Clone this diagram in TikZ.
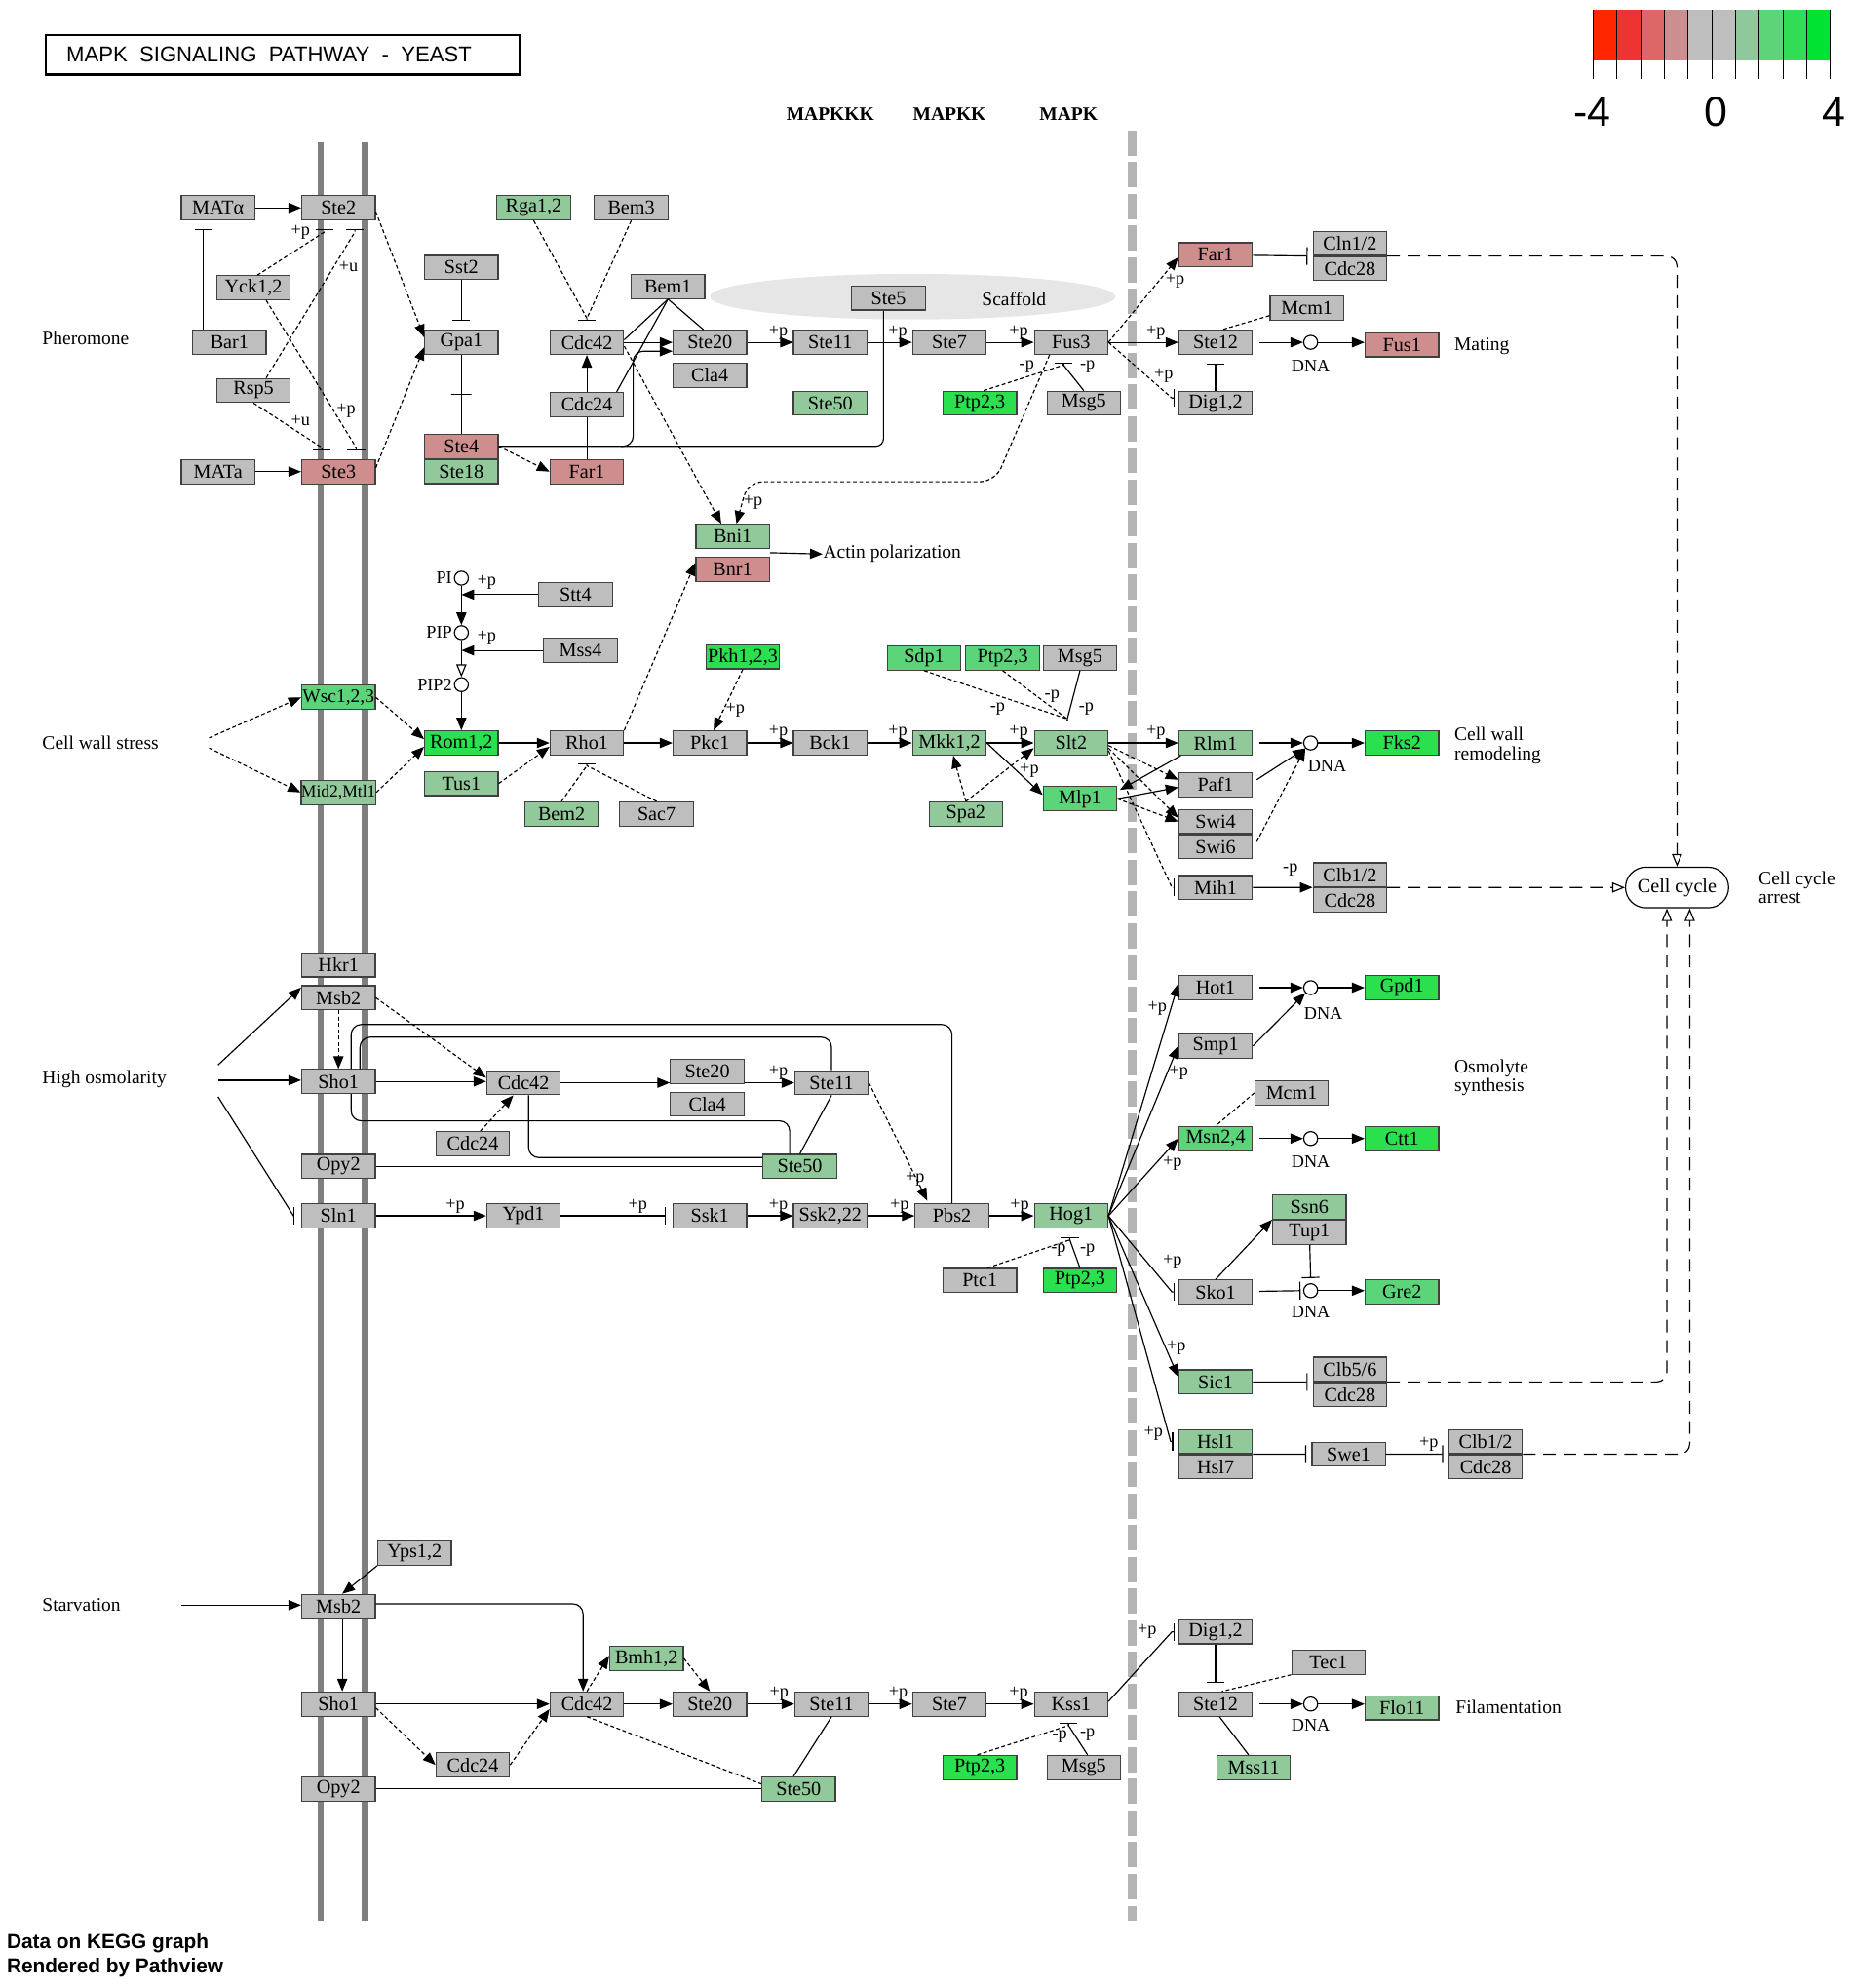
\documentclass[tikz,border=0pt]{standalone}
\usepackage{fontspec}
\setmainfont{Liberation Serif}
\newfontfamily\sansface{Liberation Sans}
\usetikzlibrary{arrows.meta,positioning,calc,shapes.misc}

\definecolor{keggGray}{HTML}{BEBEBE}
\definecolor{keggPink}{HTML}{CF8E8E}
\definecolor{keggLight}{HTML}{91C99B}
\definecolor{keggMid}{HTML}{5CD47A}
\definecolor{keggBright}{HTML}{2BE04E}
\definecolor{membrane}{HTML}{7F7F7F}
\definecolor{nucleus}{HTML}{B4B4B4}
\definecolor{scaffoldfill}{HTML}{E6E6E6}

\tikzset{
  gene/.style={draw=black!75, line width=0.9pt, minimum width=58pt, minimum height=19pt,
    inner sep=0pt, font=\fontsize{15.5}{17}\selectfont},
  boxgray/.style={gene, fill=keggGray},
  boxpink/.style={gene, fill=keggPink},
  boxlight/.style={gene, fill=keggLight},
  boxmid/.style={gene, fill=keggMid},
  boxbright/.style={gene, fill=keggBright},
  dna/.style={circle, draw, fill=white, line width=0.9pt, minimum size=11pt, inner sep=0pt},
  txt/.style={font=\fontsize{15}{15}\selectfont, inner sep=0pt, align=left},
  plab/.style={font=\fontsize{14}{15}\selectfont, inner sep=0pt},
  hlab/.style={plab, above=2pt, pos=0.68},
  crossbar/.style={draw, minimum width=16pt, minimum height=0pt, inner sep=0pt},
  actv/.style={-{Triangle[length=10pt,width=8pt]}},
  indact/.style={actv, dash pattern=on 3pt off 2pt},
  inhib/.style={-{Bar[width=14pt]}},
  indinhib/.style={inhib, dash pattern=on 3pt off 2pt},
  indbind/.style={dash pattern=on 3pt off 2pt},
  openact/.style={-{Triangle[open,length=10pt,width=8pt]}},
  cycarrow/.style={-{Triangle[open,length=10pt,width=8pt]}, dash pattern=on 10pt off 6pt, rounded corners=8pt},
}

\begin{document}
\begin{tikzpicture}[x=1pt, y=-1pt, line width=0.9pt]
\useasboundingbox (0,0) rectangle (1462,1568);

% membrane, nucleus, scaffold
\draw [membrane, line width=5pt] (253,112) -- (253,1515);
\draw [membrane, line width=5pt] (288,112) -- (288,1515);
\draw [nucleus, line width=7pt, dash pattern=on 20pt off 5pt] (893,103) -- (893,1515);
\fill [scaffoldfill] (720,234) ellipse [x radius=160, y radius=18];

% title and legend
\node [draw, line width=1.6pt, minimum width=374pt, minimum height=31pt, inner sep=0pt, anchor=north west] (titlebox) at (35,27) {};
\node [anchor=west, inner sep=0pt, font=\sansface\fontsize{17}{19}\selectfont] (title) at (52,43) {MAPK\ \ SIGNALING\ \ PATHWAY\ \ -\ \ YEAST};
\foreach \col [count=\i from 0] in {FF2600,EE3333,DD6666,CC8E8E,BEBEBE,BEBEBE,8FC89C,5DD478,33DC55,00E332} {
  \definecolor{legendcol}{HTML}{\col}
  \fill [legendcol] ({1257+18.7*\i},8) rectangle ({1257+18.7*(\i+1)},48);
}
\foreach \i in {0,...,10}
  \draw [line width=0.8pt] ({1257+18.7*\i},8) -- ({1257+18.7*\i},62);
\node [font=\sansface\fontsize{33}{35}\selectfont] (legmin) at (1256,88) {-4};
\node [font=\sansface\fontsize{33}{35}\selectfont] (legmid) at (1354,88) {0};
\node [font=\sansface\fontsize{33}{35}\selectfont] (legmax) at (1447,88) {4};

\node [font=\bfseries\fontsize{15}{17}\selectfont] (mapkkk) at (655,90) {MAPKKK};
\node [font=\bfseries\fontsize{15}{17}\selectfont] (mapkk) at (749,90) {MAPKK};
\node [font=\bfseries\fontsize{15}{17}\selectfont] (mapk) at (843,90) {MAPK};

\node [txt, anchor=west] (pheromone) at (33,267) {Pheromone};
\node [txt, anchor=west] (cws) at (33,586) {Cell wall stress};
\node [txt, anchor=west] (hosm) at (33,851) {High osmolarity};
\node [txt, anchor=west] (starv) at (33,1266) {Starvation};

% ---------- pheromone nodes ----------
\node [boxgray] (matalpha) at (172,164) {MATα};
\node [boxgray] (ste2) at (267,164) {Ste2};
\node [boxlight] (rga) at (421,164) {Rga1,2};
\node [boxgray] (bem3) at (498,164) {Bem3};
\node [boxgray] (sst2) at (364,211) {Sst2};
\node [boxgray] (yck) at (200,227) {Yck1,2};
\node [boxgray] (bem1) at (527,226) {Bem1};
\node [boxgray] (ste5) at (701,235) {Ste5};
\node [txt] (scaffold) at (800,236) {Scaffold};
\node [boxgray] (bar1) at (181,270) {Bar1};
\node [boxgray] (gpa1) at (364,270) {Gpa1};
\node [boxgray] (cdc42p) at (463,270) {Cdc42};
\node [boxgray] (ste20p) at (560,270) {Ste20};
\node [boxgray, below=6pt of ste20p] (cla4p) {Cla4};
\node [boxgray] (ste11p) at (655,270) {Ste11};
\node [boxgray] (ste7p) at (749,270) {Ste7};
\node [boxgray] (fus3) at (845,270) {Fus3};
\node [boxgray] (rsp5) at (200,308) {Rsp5};
\node [boxgray] (cdc24p) at (463,319) {Cdc24};
\node [boxlight] (ste50p) at (655,318) {Ste50};
\node [boxbright] (ptp23p) at (773,318) {Ptp2,3};
\node [boxgray] (msg5p) at (855,318) {Msg5};
\node [boxpink] (ste4) at (364,352) {Ste4};
\node [boxlight, below=0pt of ste4] (ste18) {Ste18};
\node [boxgray] (mata) at (172,372) {MATa};
\node [boxpink] (ste3) at (267,372) {Ste3};
\node [boxpink] (far1p) at (463,372) {Far1};
\node [boxlight] (bni1) at (578,423) {Bni1};
\node [boxpink, below=6pt of bni1] (bnr1) {Bnr1};
\node [txt, anchor=west] (actin) at (649,437) {Actin polarization};
\node [boxpink] (far1r) at (959,201) {Far1};
\node [boxgray] (cln12a) at (1065,192) {Cln1/2};
\node [boxgray, below=0pt of cln12a] (cdc28a) {Cdc28};
\node [boxgray] (mcm1p) at (1031,243) {Mcm1};
\node [boxgray] (ste12p) at (959,270) {Ste12};
\node [dna] (dnap) at (1034,270) {};
\node [plab] (ldnap) at (1034,289) {DNA};
\node [boxpink] (fus1) at (1106,272) {Fus1};
\node [txt, anchor=west] (mating) at (1147,273) {Mating};
\node [boxgray] (dig12p) at (959,318) {Dig1,2};

% ---------- cell wall stress nodes ----------
\node [dna] (pinode) at (364,456) {};
\node [plab, anchor=east] (lpi) at ($(pinode.west)+(-1,0)$) {PI};
\node [boxgray] (stt4) at (454,469) {Stt4};
\node [dna] (pipnode) at (364,499) {};
\node [plab, anchor=east] (lpip) at ($(pipnode.west)+(-1,0)$) {PIP};
\node [boxgray] (mss4) at (458,513) {Mss4};
\node [dna] (pip2node) at (364,540) {};
\node [plab, anchor=east] (lpip2) at ($(pip2node.west)+(-1,0)$) {PIP2};
\node [boxbright] (pkh) at (586,518) {Pkh1,2,3};
\node [boxmid] (sdp1) at (729,519) {Sdp1};
\node [boxmid] (ptp23w) at (791,519) {Ptp2,3};
\node [boxgray] (msg5w) at (852,519) {Msg5};
\node [boxmid, font=\fontsize{15}{17}\selectfont] (wsc) at (267,550) {Wsc1,2,3};
\node [boxbright] (rom12) at (364,586) {Rom1,2};
\node [boxgray] (rho1) at (463,586) {Rho1};
\node [boxgray] (pkc1) at (560,586) {Pkc1};
\node [boxgray] (bck1) at (655,586) {Bck1};
\node [boxlight] (mkk12) at (749,586) {Mkk1,2};
\node [boxlight] (slt2) at (845,586) {Slt2};
\node [boxlight] (rlm1) at (959,586) {Rlm1};
\node [dna] (dnaw) at (1034,586) {};
\node [plab] (ldnaw) at (1047,604) {DNA};
\node [boxbright] (fks2) at (1106,586) {Fks2};
\node [txt, anchor=west] (remodel) at (1147,588) {Cell wall\\remodeling};
\node [boxlight] (tus1) at (364,618) {Tus1};
\node [boxlight, font=\fontsize{13.5}{15}\selectfont] (mid2) at (267,625) {Mid2,Mtl1};
\node [boxgray] (paf1) at (959,619) {Paf1};
\node [boxmid] (mlp1) at (852,630) {Mlp1};
\node [boxlight] (bem2) at (443,642) {Bem2};
\node [boxgray] (sac7) at (518,642) {Sac7};
\node [boxlight] (spa2) at (762,642) {Spa2};
\node [boxgray] (swi4) at (959,648) {Swi4};
\node [boxgray, below=0pt of swi4] (swi6) {Swi6};
\node [boxgray] (mih1) at (959,700) {Mih1};
\node [boxgray] (clb12a) at (1065,690) {Clb1/2};
\node [boxgray, below=0pt of clb12a] (cdc28b) {Cdc28};
\node [draw, rounded rectangle, fill=white, minimum width=88pt, minimum height=32pt, font=\fontsize{15.5}{17}\selectfont] (cellcycle) at (1323,700) {Cell cycle};
\node [txt, anchor=west] (arrest) at (1387,700) {Cell cycle\\arrest};

% ---------- high osmolarity nodes ----------
\node [boxgray] (hkr1) at (267,761) {Hkr1};
\node [boxgray, below=6pt of hkr1] (msb2o) {Msb2};
\node [boxgray] (sho1o) at (267,853) {Sho1};
\node [boxgray] (cdc42o) at (413,854) {Cdc42};
\node [boxgray] (ste20o) at (558,845) {Ste20};
\node [boxgray, below=6pt of ste20o] (cla4o) {Cla4};
\node [boxgray] (ste11o) at (656,854) {Ste11};
\node [boxgray] (cdc24o) at (373,902) {Cdc24};
\node [boxgray] (opy2o) at (267,920) {Opy2};
\node [boxlight] (ste50o) at (631,920) {Ste50};
\node [boxgray] (sln1) at (267,959) {Sln1};
\node [boxgray] (ypd1) at (413,959) {Ypd1};
\node [boxgray] (ssk1) at (560,959) {Ssk1};
\node [boxgray] (ssk2) at (655,959) {Ssk2,22};
\node [boxgray] (pbs2) at (751,959) {Pbs2};
\node [boxlight] (hog1) at (845,959) {Hog1};
\node [boxgray] (ptc1) at (773,1010) {Ptc1};
\node [boxbright] (ptp23o) at (852,1010) {Ptp2,3};
\node [boxgray] (hot1) at (959,779) {Hot1};
\node [dna] (dnah) at (1034,779) {};
\node [plab] (ldnah) at (1044,799) {DNA};
\node [boxbright] (gpd1) at (1106,779) {Gpd1};
\node [boxgray] (smp1) at (959,825) {Smp1};
\node [txt, anchor=west] (osmolyte) at (1147,850) {Osmolyte\\synthesis};
\node [boxgray] (mcm1o) at (1019,862) {Mcm1};
\node [boxmid] (msn24) at (959,898) {Msn2,4};
\node [dna] (dnam) at (1034,898) {};
\node [plab] (ldnam) at (1034,916) {DNA};
\node [boxbright] (ctt1) at (1106,898) {Ctt1};
\node [boxlight] (ssn6) at (1033,952) {Ssn6};
\node [boxgray, below=0pt of ssn6] (tup1) {Tup1};
\node [boxgray] (sko1) at (959,1019) {Sko1};
\node [dna] (dnas) at (1034,1018) {};
\node [plab] (ldnas) at (1034,1035) {DNA};
\node [boxmid] (gre2) at (1106,1019) {Gre2};
\node [boxlight] (sic1) at (959,1090) {Sic1};
\node [boxgray] (clb56) at (1065,1080) {Clb5/6};
\node [boxgray, below=0pt of clb56] (cdc28c) {Cdc28};
\node [boxlight] (hsl1) at (959,1137) {Hsl1};
\node [boxgray, below=0pt of hsl1] (hsl7) {Hsl7};
\node [boxgray] (swe1) at (1064,1147) {Swe1};
\node [boxgray] (clb12b) at (1172,1137) {Clb1/2};
\node [boxgray, below=0pt of clb12b] (cdc28d) {Cdc28};

% ---------- starvation nodes ----------
\node [boxgray] (yps12) at (327,1225) {Yps1,2};
\node [boxgray] (msb2s) at (267,1267) {Msb2};
\node [boxlight] (bmh12) at (510,1308) {Bmh1,2};
\node [boxgray] (sho1s) at (267,1344) {Sho1};
\node [boxgray] (cdc42s) at (463,1344) {Cdc42};
\node [boxgray] (ste20s) at (560,1344) {Ste20};
\node [boxgray] (ste11s) at (656,1344) {Ste11};
\node [boxgray] (ste7s) at (749,1344) {Ste7};
\node [boxgray] (kss1) at (845,1344) {Kss1};
\node [boxgray] (cdc24s) at (373,1392) {Cdc24};
\node [boxgray] (opy2s) at (267,1411) {Opy2};
\node [boxlight] (ste50s) at (630,1411) {Ste50};
\node [boxbright] (ptp23s) at (773,1394) {Ptp2,3};
\node [boxgray] (msg5s) at (855,1394) {Msg5};
\node [boxgray] (dig12s) at (959,1287) {Dig1,2};
\node [boxgray] (tec1) at (1048,1311) {Tec1};
\node [boxgray] (ste12s) at (959,1344) {Ste12};
\node [dna] (dnaf) at (1034,1344) {};
\node [plab] (ldnaf) at (1034,1361) {DNA};
\node [boxlight] (flo11) at (1106,1347) {Flo11};
\node [txt, anchor=west] (filament) at (1148,1346) {Filamentation};
\node [boxlight] (mss11) at (989,1394) {Mss11};

\node [anchor=west, inner sep=0pt, font=\sansface\bfseries\fontsize{16}{18}\selectfont] (credit1) at (5,1533) {Data on KEGG graph};
\node [anchor=west, inner sep=0pt, font=\sansface\bfseries\fontsize{16}{18}\selectfont] (credit2) at (5,1552) {Rendered by Pathview};

% ---------- pheromone edges ----------
\draw [actv] (matalpha) -- (ste2);
\draw [actv] (mata) -- (ste3);
\draw [inhib] ($(bar1.north west)+(9,0)$) -- ($(matalpha.south west)+(18,7)$);
\coordinate (ste2barl) at ($(ste2.south)+(-11,7)$);
\coordinate (ste2barr) at ($(ste2.south)+(13,7)$);
\coordinate (ste3barl) at ($(ste3.north)+(-13,-7)$);
\coordinate (ste3barr) at ($(ste3.north)+(14,-7)$);
\draw [indinhib] ($(yck.north)+(3,0)$) -- ($(ste2barl)+(0,2)$) -- (ste2barl);
\draw [indinhib] ($(rsp5.north)+(10,0)$) -- ($(ste2barr)+(0,2)$) -- (ste2barr);
\draw [indinhib] ($(yck.south)+(10,0)$) -- ($(ste3barr)+(0,-2)$) -- (ste3barr);
\draw [indinhib] (rsp5.south) -- ($(ste3barl)+(0,-2)$) -- (ste3barl);
\node [plab] (lyck1) at (237,183) {+p};
\node [plab] (lrsp1) at (275,210) {+u};
\node [plab] (lyck2) at (273,324) {+p};
\node [plab] (lrsp2) at (237,332) {+u};
\draw [indact] ($(ste2.east)+(0,3)$) -- ($(gpa1.west)+(0,-4)$);
\draw [indact] ($(ste3.east)+(0,-3)$) -- ($(gpa1.west)+(0,4)$);
\draw [inhib] (sst2) -- ($(gpa1.north)+(0,-7)$);
\draw (gpa1) -- node [crossbar] {} (ste4);
\coordinate (cdc42bar) at ($(cdc42p.north)+(0,-7)$);
\draw [indinhib] (rga.south) -- ($(cdc42bar)+(0,-2)$) -- (cdc42bar);
\draw [indinhib] (bem3.south) -- ($(cdc42bar)+(0,-2)$) -- (cdc42bar);
\draw [actv] (cdc24p) -- (cdc42p);
\draw (cdc24p) -- (far1p);
\draw [indact] (ste4.east) -- (far1p.west);
\draw [rounded corners=6pt] (ste4.east) -| ($(ste5.south)+(-4,0)$);
\coordinate (ste4split) at (490,352);
\draw [actv, rounded corners=8pt] (ste4split) -| ($(ste20p.west)+(-31,7)$) -- ($(ste20p.west)+(0,7)$);
\draw [actv] (cdc42p) -- (ste20p);
\draw (bem1.south) -- ($(cdc42p.east)+(0,-2)$);
\draw (bem1.south) -- ($(cdc24p.north east)+(-6,0)$);
\draw (bem1.south) -- ($(ste20p.north)+(-5,0)$);
\draw [indact] ($(cdc42p.east)+(0,3)$) -- ($(bni1.north)+(-9,0)$);
\draw [indact, rounded corners=12pt] ($(fus3.south)+(-17,0)$) -- (785,380) -- (590,380) -- ($(bni1.north)+(3,0)$);
\node [plab] (lbni) at (594,396) {+p};
\draw [actv] ($(bni1.south east)!0.5!(bnr1.north east)$) -- (actin.west);
\draw [actv] (ste20p) -- node [hlab] {+p} (ste11p);
\draw [actv] (ste11p) -- node [hlab] {+p} (ste7p);
\draw [actv] (ste7p) -- node [hlab] {+p} (fus3);
\draw (ste11p) -- (ste50p);
\coordinate (fus3bar) at ($(fus3.south)+(-6,6)$);
\draw [indinhib] ($(ptp23p.north)+(3,0)$) -- ($(fus3bar)+(0,2)$) -- (fus3bar);
\draw [inhib] (msg5p.north) -- ($(fus3bar)+(0,2)$) -- (fus3bar);
\node [plab] (lptpf) at (810,289) {-p};
\node [plab] (lmsgf) at (858,289) {-p};
\draw [indact] (fus3.east) -- ($(far1r.west)+(0,2)$);
\node [plab] (lfar1) at (927,222) {+p};
\draw [actv] (fus3) -- node [hlab] {+p} (ste12p);
\draw [indinhib] (fus3.east) -- ($(dig12p.west)+(-5,-4)$) -- ($(dig12p.west)+(-3,-4)$);
\node [plab] (ldig) at (918,296) {+p};
\draw [inhib] (far1r) -- ($(cln12a.south west)+(-4,0)$);
\draw [cycarrow] (cln12a.south east) -| (cellcycle.north);
\draw [indbind] ($(mcm1p.south west)+(0,-4)$) -- ($(ste12p.north)+(5,0)$);
\draw [actv, shorten <=5pt] (ste12p) -- (dnap);
\draw [actv] (dnap) -- (dnap -| fus1.west);
\draw [inhib] (dig12p) -- ($(ste12p.south)+(0,7)$);

% ---------- cell wall stress edges ----------
\draw [actv] (pinode) -- (pipnode);
\draw [actv] (stt4) -- (stt4 -| pinode);
\draw [actv] (mss4) -- (mss4 -| pipnode);
\node [plab] (lpi1) at (384,459) {+p};
\node [plab] (lpi2) at (384,503) {+p};
\draw [openact] (pipnode) -- (pip2node);
\draw [actv] (pip2node) -- (rom12);
\coordinate (cwsout) at (165,586);
\draw [indact] ($(cwsout)+(0,-4)$) -- (wsc.west);
\draw [indact] ($(cwsout)+(0,4)$) -- (mid2.west);
\draw [indact] (wsc.east) -- ($(rom12.west)+(0,-3)$);
\draw [indact] (mid2.east) -- ($(rom12.west)+(0,3)$);
\draw [actv] (rom12) -- (rho1);
\draw [indact] (tus1.east) -- ($(rho1.west)+(0,3)$);
\coordinate (rho1bar) at ($(rho1.south)+(0,6)$);
\draw [indinhib] (bem2.north) -- ($(rho1bar)+(0,2)$) -- (rho1bar);
\draw [indinhib] (sac7.north) -- ($(rho1bar)+(0,2)$) -- (rho1bar);
\draw [indact] (rho1.north east) -- ($(bnr1.west)+(0,-5)$);
\draw [actv] (rho1) -- (pkc1);
\draw [indact] (pkh.south) -- ($(pkc1.north)+(3,0)$);
\node [plab] (lpkh) at (580,560) {+p};
\draw [actv] (pkc1) -- node [hlab] {+p} (bck1);
\draw [actv] (bck1) -- node [hlab] {+p} (mkk12);
\draw [actv] (mkk12) -- node [hlab] {+p} (slt2);
\draw [actv] (mkk12.east) -- ($(mlp1.west)+(0,-3)$);
\node [plab] (lmlp) at (812,608) {+p};
\draw [indact] (spa2.north) -- ($(mkk12.south)+(3,0)$);
\draw [indact] (spa2.north) -- ($(slt2.west)+(0,4)$);
\coordinate (slt2bar) at ($(slt2.north)+(-3,-7)$);
\draw [indinhib] (sdp1.south) -- ($(slt2bar)+(0,-2)$) -- (slt2bar);
\draw [indinhib] (ptp23w.south) -- ($(slt2bar)+(0,-2)$) -- (slt2bar);
\draw [inhib] (msg5w.south) -- ($(slt2bar)+(0,-2)$) -- (slt2bar);
\node [plab] (lsdp) at (787,559) {-p};
\node [plab] (lptpw) at (830,549) {-p};
\node [plab] (lmsgw) at (857,559) {-p};
\draw [actv] (slt2) -- node [hlab] {+p} (rlm1);
\draw [indact] ($(slt2.east)+(0,2)$) -- ($(paf1.west)+(0,-4)$);
\draw [indact] ($(slt2.east)+(0,4)$) -- ($(swi4.west)+(0,-3)$);
\draw [indinhib] ($(slt2.east)+(0,6)$) -- ($(mih1.west)+(-5,0)$) -- ($(mih1.west)+(-3,0)$);
\draw [actv] (mlp1.east) -- ($(paf1.west)+(0,2)$);
\draw [indact] (mlp1.east) -- (swi4.west);
\draw [actv] ($(rlm1.south west)+(2,0)$) -- ($(mlp1.north east)+(2,3)$);
\draw [actv, shorten <=5pt] (rlm1) -- (rlm1 -| dnaw.west);
\draw [actv] (dnaw) -- (dnaw -| fks2.west);
\draw [actv] ($(paf1.east)+(3,-4)$) -- (dnaw.south west);
\draw [indact] ($(swi6.east)+(3,-4)$) -- (dnaw.south west);
\draw [actv] (mih1) -- (clb12a.south west);
\node [plab] (lmih) at (1018,686) {-p};
\draw [cycarrow] (clb12a.south east) -- (cellcycle.west);

% ---------- high osmolarity edges ----------
\coordinate (hosmout) at (172,852);
\draw [actv] ($(hosmout)+(0,-12)$) -- ($(msb2o.west)+(0,-8)$);
\draw [actv] (hosmout) -- (hosmout -| sho1o.west);
\draw [inhib] ($(hosmout)+(0,13)$) -- ($(sln1.west)+(-6,0)$) -- ($(sln1.west)+(-5,0)$);
\draw [indact] (msb2o) -- (sho1o);
\draw [indact] (msb2o.east) -- ($(cdc42o.west)+(0,-4)$);
\draw [actv] (sho1o) -- (sho1o -| cdc42o.west);
\draw [indact] ($(cdc24o.north)+(6,0)$) -- ($(cdc42o.south)+(-8,0)$);
\draw [actv] (cdc42o) -- (cdc42o -| ste20o.west);
\draw [actv] (cdc42o -| ste20o.east) -- node [hlab] {+p} (ste11o);
\draw [rounded corners=8pt] ($(sho1o.north)+(10,0)$) |- ($(pbs2.north)+(0,-141)$) -- (pbs2.north);
\draw [rounded corners=8pt] ($(sho1o.north)+(17,0)$) |- ($(ste11o.north)+(0,-26)$) -- (ste11o.north);
\draw [rounded corners=8pt] ($(sho1o.south)+(10,0)$) |- ($(ste50o.north)+(-8,-26)$) -- ($(ste50o.north)+(-8,0)$);
\draw [rounded corners=8pt] ($(cdc42o.south)+(4,0)$) |- ($(ste50o.west)+(0,-7)$);
\draw (opy2o) -- (ste50o);
\draw (ste11o.south) -- (ste50o.north);
\draw [indact] (ste11o.east) -- ($(pbs2.north west)+(10,-2)$);
\node [plab] (lpbs) at (722,930) {+p};
\draw [actv] (sln1) -- node [hlab, pos=0.72] {+p} (ypd1);
\draw [inhib] (ypd1) -- node [hlab, pos=0.73] {+p} ($(ssk1.west)+(-5,0)$);
\draw [actv] (ssk1) -- node [hlab] {+p} (ssk2);
\draw [actv] (ssk2) -- node [hlab] {+p} (pbs2);
\draw [actv] (pbs2) -- node [hlab] {+p} (hog1);
\coordinate (hog1bar) at ($(hog1.south)+(-1,7)$);
\draw [indinhib] ($(ptc1.north)+(6,0)$) -- ($(hog1bar)+(0,2)$) -- (hog1bar);
\draw [inhib] (ptp23o.north) -- ($(hog1bar)+(0,2)$) -- (hog1bar);
\node [plab] (lptc) at (835,986) {-p};
\node [plab] (lptpo) at (858,986) {-p};
\draw [actv] (hog1.east) -- ($(hot1.west)+(0,-3)$);
\draw [actv] (hog1.east) -- (smp1.west);
\draw [actv] (hog1.east) -- (msn24.west);
\draw [inhib] (hog1.east) -- ($(sko1.west)+(-5,0)$) -- ($(sko1.west)+(-3,0)$);
\draw [actv] (hog1.east) -- ($(sic1.west)+(0,-4)$);
\draw [inhib] (hog1.east) -- ($(hsl1.west)+(-6,0)$) -- ($(hsl1.west)+(-4,0)$);
\node [plab] (lhot) at (913,795) {+p};
\node [plab] (lsmp) at (930,846) {+p};
\node [plab] (lmsn) at (925,918) {+p};
\node [plab] (lsko) at (925,995) {+p};
\node [plab] (lsic) at (928,1063) {+p};
\node [plab] (lhsl) at (910,1131) {+p};
\draw [actv, shorten <=5pt] (hot1) -- (dnah);
\draw [actv] (dnah) -- (gpd1);
\draw [actv] (smp1.east) -- (dnah.south west);
\draw [indbind] (mcm1o.west) -- (msn24.north);
\draw [actv, shorten <=5pt] (msn24) -- (dnam);
\draw [actv] (dnam) -- (ctt1);
\draw [actv] (sko1.north) -- (ssn6.south west);
\draw [inhib] (tup1) -- ($(dnas.north)+(0,-4)$);
\draw [inhib, shorten <=5pt] (sko1) -- ($(dnas.west)+(-2,0)$);
\draw [actv] (dnas) -- (dnas -| gre2.west);
\draw [inhib] (sic1) -- ($(clb56.south west)+(-4,0)$);
\draw [cycarrow] (clb56.south east) -| ($(cellcycle.south)+(-8,0)$);
\draw [inhib] (hsl1.south east) -- ($(swe1.west)+(-4,0)$);
\draw [inhib] (swe1) -- node [hlab, pos=0.75] {+p} ($(clb12b.south west)+(-4,0)$);
\draw [cycarrow] (clb12b.south east) -| ($(cellcycle.south)+(10,0)$);

% ---------- starvation edges ----------
\coordinate (starvout) at (143,1266);
\draw [actv] (starvout) -- (starvout -| msb2s.west);
\draw [actv] (yps12.south west) -- ($(msb2s.north)+(3,0)$);
\draw [actv] ($(msb2s.south)+(3,0)$) -- ($(sho1s.north)+(3,0)$);
\draw [actv, rounded corners=8pt] ($(msb2s.east)+(0,-2)$) -| ($(cdc42s.north)+(-3,0)$);
\draw [actv] (sho1s) -- (cdc42s);
\draw [indact] ($(sho1s.east)+(0,3)$) -- (cdc24s.west);
\draw [indact] (cdc24s.east) -- ($(cdc42s.west)+(0,4)$);
\draw [indact] (cdc42s.north) -- ($(bmh12.west)+(0,-2)$);
\draw [indact] (bmh12.east) -- (ste20s.north);
\draw [actv] (cdc42s) -- (ste20s);
\draw [actv] (ste20s) -- node [hlab] {+p} (ste11s);
\draw [actv] (ste11s) -- node [hlab] {+p} (ste7s);
\draw [actv] (ste7s) -- node [hlab] {+p} (kss1);
\draw [indbind] (cdc42s.south) -- ($(ste50s.west)+(0,-4)$);
\draw (ste11s.south) -- ($(ste50s.north)+(-4,0)$);
\draw (opy2s) -- (ste50s);
\coordinate (kss1bar) at ($(kss1.south)+(-2,5)$);
\draw [indinhib] ($(ptp23s.north)+(-2,0)$) -- ($(kss1bar)+(0,2)$) -- (kss1bar);
\draw [inhib] ($(msg5s.north)+(3,0)$) -- ($(kss1bar)+(0,2)$) -- (kss1bar);
\node [plab] (lptps) at (836,1370) {-p};
\node [plab] (lmsgs) at (858,1368) {-p};
\draw [inhib] ($(kss1.east)+(0,-2)$) -- ($(dig12s.west)+(-5,0)$) -- ($(dig12s.west)+(-3,0)$);
\node [plab] (lkss) at (905,1287) {+p};
\draw [inhib] (dig12s) -- ($(ste12s.north)+(0,-7)$);
\draw [indbind] (tec1.south west) -- ($(ste12s.north)+(5,0)$);
\draw [actv, shorten <=5pt] (ste12s) -- (dnaf);
\draw [actv] (dnaf) -- (dnaf -| flo11.west);
\draw ($(ste12s.south)+(3,0)$) -- ($(mss11.north)+(-4,0)$);
\end{tikzpicture}
\end{document}
